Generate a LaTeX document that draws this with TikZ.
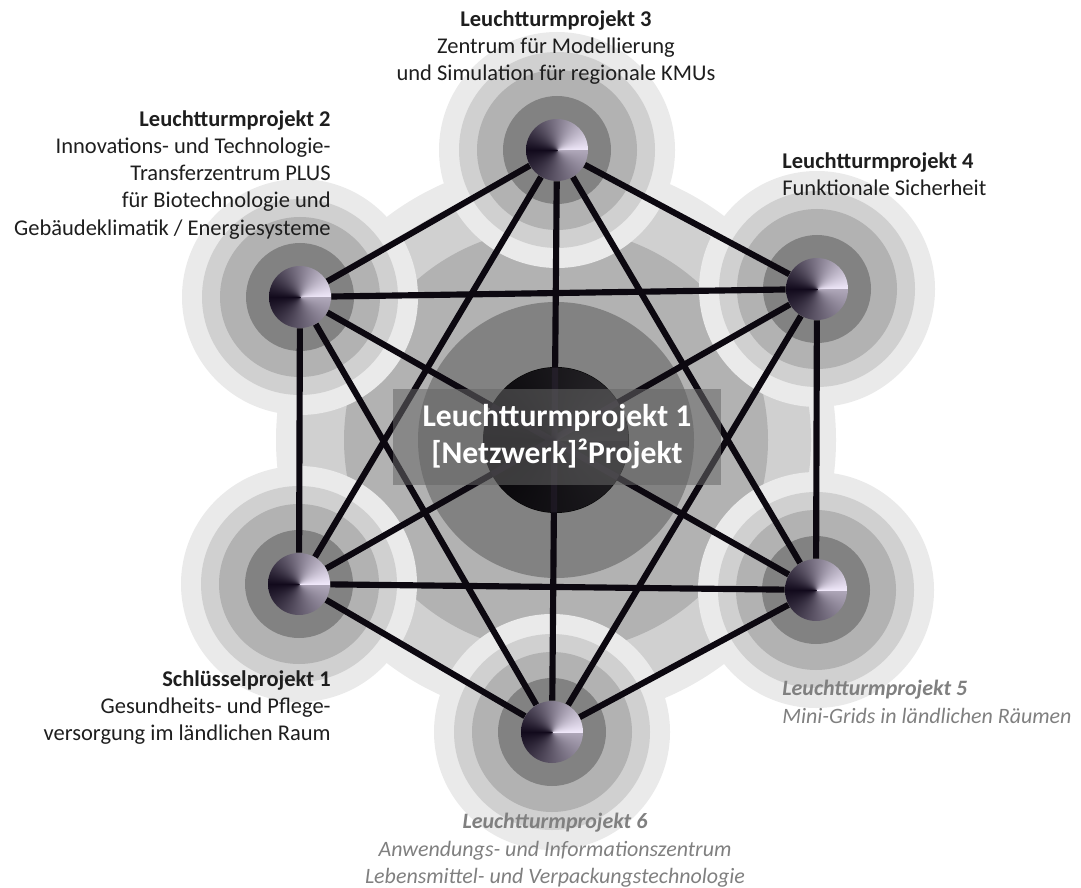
\documentclass[tikz,border=0pt]{standalone}
\usepackage{fontspec}
\setmainfont{Carlito}
\usepackage{xcolor}
\usetikzlibrary{positioning}
\definecolor{ringfaint}{RGB}{234,234,234}
\definecolor{ringlight}{RGB}{208,208,208}
\definecolor{ringmid}{RGB}{178,178,178}
\definecolor{ringdark}{RGB}{130,130,130}
\definecolor{inkdark}{RGB}{30,30,30}
\definecolor{inkgray}{RGB}{128,128,128}
\definecolor{linkblack}{RGB}{12,8,16}
% cone-shaded sphere: brightness follows the angle round the centre
\pgfdeclarefunctionalshading{conesph}{\pgfpoint{-50bp}{-50bp}}{\pgfpoint{50bp}{50bp}}{}{
  exch 0.001 add atan
  dup 180 lt {180 div 0.87 mul 0.97 exch sub} {180 sub 180 div 0.62 mul 0.10 add} ifelse
  dup 0.03 sub exch dup 0.06 sub exch 0.01 add
}
\pgfdeclarelayer{rings}
\pgfdeclarelayer{links}
\pgfsetlayers{rings,links,main}

\begin{document}
\begin{tikzpicture}[x=0.02cm,y=-0.02cm,font=\fontsize{12.8}{15.5}\selectfont,
  knot/.style={circle,inner sep=0pt,minimum size=1.24cm,shading=conesph},
  link/.style={draw=linkblack,line width=3.5pt},
  note/.style={inner sep=0pt,text=inkdark},
  greynote/.style={inner sep=0pt,text=inkgray,font=\fontsize{12.5}{15.5}\selectfont\itshape},
  hubbox/.style={fill=black!60,fill opacity=0.55,text opacity=1,text=white,
    minimum width=6.58cm,minimum height=1.94cm,align=center,
    font=\fontsize{18}{21}\selectfont\bfseries}]
  \useasboundingbox (0,0) rectangle (1081,888);
  % --- the six outer projects (hexagon) and the hub ---
  \node[knot] (lp3) at (557,150) {};
  \node[knot] (lp2) at (300,297) {};
  \node[knot] (lp4) at (817,289) {};
  \node[knot] (sp1) at (299,584) {};
  \node[knot] (lp5) at (816,590) {};
  \node[knot] (lp6) at (552,732) {};
  \node[knot,minimum size=2.9cm,opacity=0.2] (hub) at (556,440) {};
  % --- grey halos ---
  \begin{pgfonlayer}{rings}
    \foreach \r/\c in {280/ringfaint,255/ringlight,212/ringmid}{
      \fill[\c] (hub) circle (\r);}
    \foreach \r/\c in {118/ringfaint,98/ringlight,80/ringmid,54/ringdark}{
      \foreach \n in {lp2,lp3,lp4,lp5,lp6,sp1}{
        \fill[\c] (\n) circle (\r);}}
    \fill[ringdark] (hub) circle (138);
    \fill[black] (hub) circle (73);
  \end{pgfonlayer}
  % --- every project linked with every other one ---
  \begin{pgfonlayer}{links}
    \foreach \a/\b in {lp3/lp2,lp3/lp4,lp3/sp1,lp3/lp5,lp3/lp6,
                       lp2/lp4,lp2/sp1,lp2/lp5,lp2/lp6,
                       lp4/sp1,lp4/lp5,lp4/lp6,
                       sp1/lp5,sp1/lp6,lp5/lp6}{
      \draw[link] (\a) -- (\b);}
  \end{pgfonlayer}
  \node[hubbox] (hubtext) at (557,437) {Leuchtturmprojekt 1\\{}[Netzwerk]²Projekt};
  % --- labels ---
  \node[note,anchor=north,align=center] (lab3) at (556,10)
    {\textbf{Leuchtturmprojekt 3}\\Zentrum für Modellierung\\und Simulation für regionale KMUs};
  \node[note,anchor=north east,align=right] (lab2) at (331,110)
    {\textbf{Leuchtturmprojekt 2}\\Innovations- und Technologie-\\Transferzentrum PLUS\\
     für Biotechnologie und\\Gebäudeklimatik / Energiesysteme};
  \node[note,anchor=north west,align=left] (lab4) at (782,152)
    {\textbf{Leuchtturmprojekt 4}\\Funktionale Sicherheit};
  \node[note,anchor=north east,align=right] (labs1) at (331,670)
    {\textbf{Schlüsselprojekt 1}\\Gesundheits- und Pflege-\\versorgung im ländlichen Raum};
  \node[greynote,anchor=north west,align=left] (lab5) at (782,680)
    {\textbf{Leuchtturmprojekt 5}\\Mini-Grids in ländlichen Räumen};
  \node[greynote,anchor=north,align=center] (lab6) at (555,813)
    {\textbf{Leuchtturmprojekt 6}\\Anwendungs- und Informationszentrum\\
     Lebensmittel- und Verpackungstechnologie};
\end{tikzpicture}
\end{document}
